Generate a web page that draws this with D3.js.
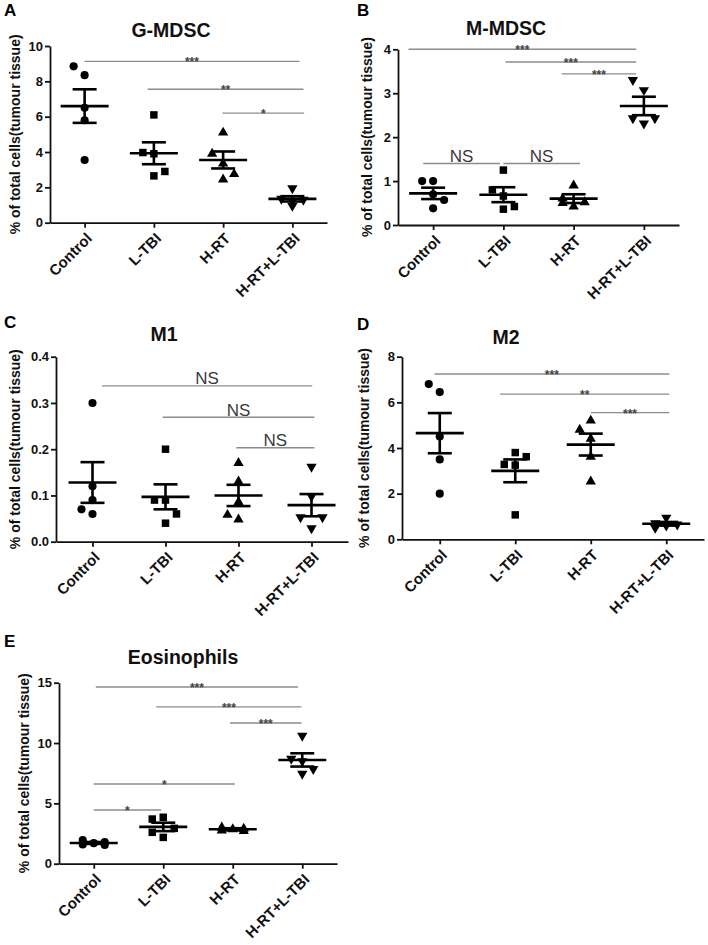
<!DOCTYPE html>
<html>
<head>
<meta charset="utf-8">
<script src="https://cdn.jsdelivr.net/npm/d3@7"></script>
<style>
  html, body { margin: 0; padding: 0; background: #fff; }
  svg { display: block; }
  text { font-family: "Liberation Sans", Arial, Helvetica, sans-serif; }
</style>
</head>
<body>
<svg id="chart" width="708" height="945"></svg>
<script>
// ---------------- DATA ----------------
const categories = ["Control", "L-TBI", "H-RT", "H-RT+L-TBI"];
const panelLetters = ["A", "B", "C", "D", "E"];
const panelTitles = ["G-MDSC", "M-MDSC", "M1", "M2", "Eosinophils"];
const yAxisLabel = "% of total cells(tumour tissue)";

// G-MDSC
const gmdscValues = [[8.35, 6.5, 5.8, 3.55, 8.85], [3.9, 6.1, 2.65, 3.97, 2.9], [3.35, 5.1, 2.45, 3.9, 2.75], [1.95, 0.95, 1.35, 1.3, 1.25]];
const gmdscMean = [6.6, 3.93, 3.55, 1.35];
const gmdscSem = [0.95, 0.62, 0.48, 0.15];
const gmdscTicks = [0, 2, 4, 6, 8, 10];
const gmdscSig = [[0, 3.1, 9.13, "***"], [0.91, 3.16, 7.55, "**"], [1.99, 3.17, 6.2, "*"]];

// M-MDSC
const mmdscValues = [[0.38, 1.0, 0.7, 1.0, 0.57], [1.25, 0.66, 0.36, 0.8, 0.42], [0.9, 0.42, 0.6, 0.52, 0.5], [3.07, 2.31, 3.3, 2.43, 2.43]];
const mmdscMean = [0.72, 0.69, 0.6, 2.71];
const mmdscSem = [0.13, 0.17, 0.1, 0.21];
const mmdscTicks = [0, 1, 2, 3, 4];
const mmdscSig = [[-0.35, 2.89, 4.0, "***"], [1.03, 2.89, 3.71, "***"], [1.83, 2.89, 3.44, "***"], [-0.14, 0.95, 1.4, "NS"], [1.0, 2.09, 1.4, "NS"]];

// M1
const m1Values = [[0.3, 0.12, 0.09, 0.06, 0.07], [0.2, 0.09, 0.04, 0.09, 0.06], [0.17, 0.13, 0.086, 0.048, 0.058], [0.162, 0.098, 0.029, 0.053, 0.053]];
const m1Mean = [0.128, 0.097, 0.1, 0.079];
const m1Sem = [0.044, 0.027, 0.023, 0.024];
const m1Ticks = [0, 0.1, 0.2, 0.3, 0.4];
const m1Sig = [[0.13, 3.01, 0.337, "NS"], [0.96, 3.04, 0.269, "NS"], [1.97, 3.04, 0.203, "NS"]];

// M2
const m2Values = [[6.45, 4.5, 3.5, 2.0, 6.8], [3.8, 3.25, 1.07, 3.28, 3.62], [5.2, 4.4, 3.62, 2.53, 4.8], [0.95, 0.7, 0.65, 0.6, 0.5]];
const m2Mean = [4.65, 3.0, 4.15, 0.68];
const m2Sem = [0.88, 0.5, 0.48, 0.08];
const m2Ticks = [0, 2, 4, 6, 8];
const m2Sig = [[-0.07, 3.04, 7.24, "***"], [0.8, 3.04, 6.36, "**"], [2.0, 3.04, 5.55, "***"]];

// Eosinophils
const eosValues = [[1.7, 1.95, 1.55, 1.8, 1.6], [2.18, 3.85, 3.7, 2.93, 2.6], [2.85, 3.0, 2.7, 2.9, 2.75], [10.6, 8.5, 7.45, 8.7, 7.85]];
const eosMean = [1.72, 3.05, 2.85, 8.6];
const eosSem = [0.08, 0.35, 0.09, 0.55];
const eosTicks = [0, 5, 10, 15];
const eosSig = [[0.03, 2.94, 14.64, "***"], [0.9, 2.99, 13.0, "***"], [1.96, 2.99, 11.66, "***"], [0, 2.03, 6.6, "*"], [0, 0.97, 4.45, "*"]];

// ---------------- LAYOUT ----------------
const panels = [
  { values: gmdscValues, mean: gmdscMean, sem: gmdscSem, ticks: gmdscTicks, sig: gmdscSig, fmt: d3.format("d"),
    x0: 50, x1: 327, yTop: 46, y0: 222.7, letter: [4, 16], title: [171, 36.7], ylabX: 15 },
  { values: mmdscValues, mean: mmdscMean, sem: mmdscSem, ticks: mmdscTicks, sig: mmdscSig, fmt: d3.format("d"),
    x0: 398, x1: 679, yTop: 49.3, y0: 225, letter: [357, 16], title: [506, 35], ylabX: 367 },
  { values: m1Values, mean: m1Mean, sem: m1Sem, ticks: m1Ticks, sig: m1Sig, fmt: d3.format(".1f"),
    x0: 56, x1: 348, yTop: 356.7, y0: 541.7, letter: [4, 328], title: [164, 340.7], ylabX: 15 },
  { values: m2Values, mean: m2Mean, sem: m2Sem, ticks: m2Ticks, sig: m2Sig, fmt: d3.format("d"),
    x0: 402, x1: 704, yTop: 356.7, y0: 539.3, letter: [357, 330], title: [506, 344], ylabX: 364 },
  { values: eosValues, mean: eosMean, sem: eosSem, ticks: eosTicks, sig: eosSig, fmt: d3.format("d"),
    x0: 59, x1: 337, yTop: 682.7, y0: 863.7, letter: [4, 647], title: [183, 664], ylabX: 24 }
];

const symbolTypes = [d3.symbolCircle, d3.symbolSquare, d3.symbolTriangle, d3.symbolTriangle];
const symbolSizes = [52, 56, 46, 46];
const symbolRotate = [0, 0, 0, 180];
const SLOT = 11, COLLIDE = 12;

// horizontal spread of overlapping points (GraphPad-like scatter)
function spreadSlots(vals, yScale) {
  const placed = [];
  let prefer = -1;
  return vals.map(v => {
    const py = yScale(v);
    const dist = s => {
      let m = Infinity;
      placed.forEach(p => { if (p.slot === s) m = Math.min(m, Math.abs(p.py - py)); });
      return m;
    };
    let slot;
    if (dist(0) >= COLLIDE) slot = 0;
    else if (dist(prefer) >= COLLIDE) { slot = prefer; prefer = -prefer; }
    else if (dist(-prefer) >= COLLIDE) { slot = -prefer; }
    else {
      const cands = [0, -1, 1];
      slot = cands.reduce((a, b) => dist(b) > dist(a) ? b : a, 0);
    }
    placed.push({ py, slot });
    return slot;
  });
}

const svg = d3.select("#chart");

panels.forEach((p, pi) => {
  const g = svg.append("g");
  const yMax = p.ticks[p.ticks.length - 1];
  const x = d3.scalePoint().domain(categories).range([p.x0, p.x1]).padding(0.5);
  const y = d3.scaleLinear().domain([0, yMax]).range([p.y0, p.yTop]);

  // panel letter
  g.append("text").attr("x", p.letter[0]).attr("y", p.letter[1])
    .attr("font-size", 17).attr("font-weight", "bold").attr("fill", "#000")
    .text(panelLetters[pi]);

  // title
  g.append("text").attr("x", p.title[0]).attr("y", p.title[1])
    .attr("text-anchor", "middle").attr("font-size", 19.5).attr("font-weight", "bold")
    .attr("fill", "#111").text(panelTitles[pi]);

  // y axis label
  g.append("text")
    .attr("transform", `translate(${p.ylabX},${(p.yTop + p.y0) / 2}) rotate(-90)`)
    .attr("text-anchor", "middle").attr("dominant-baseline", "central")
    .attr("font-size", 14).attr("font-weight", "bold").attr("fill", "#111")
    .text(yAxisLabel);

  // y axis
  const ya = g.append("g").attr("transform", `translate(${p.x0},0)`)
    .call(d3.axisLeft(y).tickValues(p.ticks).tickFormat(p.fmt).tickSize(5).tickSizeOuter(0).tickPadding(2));
  ya.selectAll("text").attr("font-size", 13).attr("font-weight", "bold").attr("fill", "#111")
    .style("font-family", '"Liberation Sans", Arial, sans-serif');

  // x axis
  const xa = g.append("g").attr("transform", `translate(0,${p.y0})`)
    .call(d3.axisBottom(x).tickSize(5).tickSizeOuter(0));
  xa.selectAll("text")
    .attr("x", 0).attr("y", 0).attr("dy", "0.35em")
    .attr("transform", "translate(4,13) rotate(-45)")
    .style("text-anchor", "end")
    .attr("font-size", 15).attr("font-weight", "bold").attr("fill", "#111")
    .style("font-family", '"Liberation Sans", Arial, sans-serif');

  [ya, xa].forEach(a => {
    a.select(".domain").attr("stroke", "#111").attr("stroke-width", 1.8);
    a.selectAll(".tick line").attr("stroke", "#111").attr("stroke-width", 1.8);
  });

  // significance bars
  const step = x.step();
  const base = x(categories[0]);
  p.sig.forEach(s => {
    const xa1 = base + s[0] * step, xa2 = base + s[1] * step, yy = y(s[2]);
    g.append("line").attr("x1", xa1).attr("x2", xa2).attr("y1", yy).attr("y2", yy)
      .attr("stroke", "#8c8c8c").attr("stroke-width", 1.4);
    const isNS = s[3] === "NS";
    g.append("text").attr("x", (xa1 + xa2) / 2).attr("y", isNS ? yy - 1.5 : yy + 5)
      .attr("text-anchor", "middle")
      .attr("font-size", isNS ? 17 : 12)
      .attr("font-weight", isNS ? "normal" : "bold")
      .attr("fill", isNS ? "#3a3a3a" : "#444")
      .text(s[3]);
  });

  // points
  categories.forEach((c, ci) => {
    const vals = p.values[ci];
    const slots = spreadSlots(vals, y);
    const sym = d3.symbol().type(symbolTypes[ci]).size(symbolSizes[ci]);
    g.selectAll(null).data(vals).join("path")
      .attr("d", sym)
      .attr("transform", (v, i) => `translate(${x(c) + slots[i] * SLOT},${y(v)}) rotate(${symbolRotate[ci]})`)
      .attr("fill", "#000");

    // mean and SEM
    const cx = x(c), m = p.mean[ci], se = p.sem[ci];
    const eg = g.append("g").attr("stroke", "#000").attr("stroke-width", 2.6);
    eg.append("line").attr("x1", cx - 24).attr("x2", cx + 24).attr("y1", y(m)).attr("y2", y(m));
    eg.append("line").attr("x1", cx).attr("x2", cx).attr("y1", y(m - se)).attr("y2", y(m + se));
    eg.append("line").attr("x1", cx - 12).attr("x2", cx + 12).attr("y1", y(m + se)).attr("y2", y(m + se));
    eg.append("line").attr("x1", cx - 12).attr("x2", cx + 12).attr("y1", y(m - se)).attr("y2", y(m - se));
  });
});
</script>
</body>
</html>
